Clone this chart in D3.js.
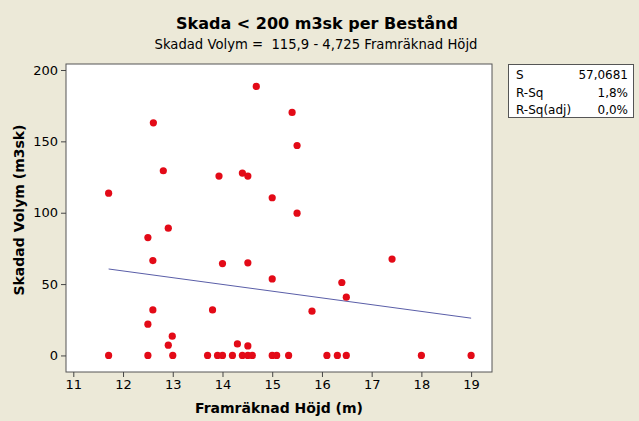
<!DOCTYPE html>
<html>
<head>
<meta charset="utf-8">
<script src="https://cdn.jsdelivr.net/npm/d3@7"></script>
<style>
html,body{margin:0;padding:0;background:#ECE9D8;}
svg{display:block;}
text{font-family:Tahoma,"DejaVu Sans",sans-serif;fill:#000;}
</style>
</head>
<body>
<script>
// Data
const hojd = [14.68,12.61,12.81,11.71,13.93,14.40,14.51,15.00,12.91,12.50,
  15.40,15.50,15.50,12.60,14.00,14.51,15.00,12.60,13.80,12.50,12.99,12.91,14.30,14.51,
  17.41,16.40,16.49,15.80,
  11.71,12.50,13.00,13.70,13.90,14.00,14.20,14.40,14.51,14.60,15.00,15.09,15.33,16.10,16.31,16.49,18.00,19.00];
const volym = [188.5,163,129.4,113.7,125.7,127.8,125.7,110.5,89.2,82.6,
  170.3,147.1,99.7,66.5,64.4,64.9,53.6,31.9,31.9,21.9,13.5,7.2,8.1,6.7,
  67.5,51.1,40.8,31.0,
  0,0,0,0,0,0,0,0,0,0,0,0,0,0,0,0,0,0];
const intercept = 115.9, slope = -4.725;
const fitRange = [11.71, 19.0];
const xTicks = [11,12,13,14,15,16,17,18,19];
const yTicks = [0,50,100,150,200];
const statLabels = ["S","R-Sq","R-Sq(adj)"];
const statValues = ["57,0681","1,8%","0,0%"];
const title = "Skada < 200 m3sk per Bestånd";
const subtitle = "Skadad Volym =  115,9 - 4,725 Framräknad Höjd";
const xLabel = "Framräknad Höjd (m)";
const yLabel = "Skadad Volym (m3sk)";

const W = 639, H = 421;
const L = 66, R = 492, T = 64, B = 372;
const svg = d3.select("body").append("svg").attr("width", W).attr("height", H);
svg.append("rect").attr("width", W).attr("height", H).attr("fill", "#ECE9D8");

const x = d3.scaleLinear().domain([10.853, 19.42]).range([L, R]);
const y = d3.scaleLinear().domain([-11.6, 204.2]).range([B, T]);

svg.append("rect").attr("x", L).attr("y", T).attr("width", R - L).attr("height", B - T)
  .attr("fill", "#fff").attr("stroke", "#555").attr("stroke-width", 1);

const xa = svg.append("g").attr("transform", `translate(0,${B})`)
  .call(d3.axisBottom(x).tickValues(xTicks).tickSize(5).tickPadding(3).tickFormat(d3.format("d")));
const ya = svg.append("g").attr("transform", `translate(${L},0)`)
  .call(d3.axisLeft(y).tickValues(yTicks).tickSize(5).tickPadding(3).tickFormat(d3.format("d")));
[xa, ya].forEach(g => {
  g.select(".domain").remove();
  g.selectAll("line").attr("stroke", "#444");
  g.selectAll("text").style("font-family", 'Tahoma,"DejaVu Sans",sans-serif').style("font-size", "13px").attr("fill", "#000");
});

// regression line
svg.append("line")
  .attr("x1", x(fitRange[0])).attr("y1", y(intercept + slope * fitRange[0]))
  .attr("x2", x(fitRange[1])).attr("y2", y(intercept + slope * fitRange[1]))
  .attr("stroke", "#5a5ea8").attr("stroke-width", 1);

svg.append("g").selectAll("circle").data(hojd.map((h, i) => [h, volym[i]])).join("circle")
  .attr("cx", d => x(d[0])).attr("cy", d => y(d[1])).attr("r", 3.6).attr("fill", "#E30A17");

// titles
svg.append("text").attr("x", 317).attr("y", 29).attr("text-anchor", "middle")
  .style("font-size", "16px").style("font-weight", "bold").text(title);
svg.append("text").attr("x", 316).attr("y", 49).attr("text-anchor", "middle")
  .style("font-size", "13.2px").style("white-space", "pre").text(subtitle);
svg.append("text").attr("x", (L + R) / 2).attr("y", 413).attr("text-anchor", "middle")
  .style("font-size", "14px").style("font-weight", "bold").text(xLabel);
svg.append("text").attr("transform", `translate(24,${(T + B) / 2 - 8}) rotate(-90)`).attr("text-anchor", "middle")
  .style("font-size", "14px").style("font-weight", "bold").text(yLabel);

// stats box
const bx = 508, by = 64, bw = 125, bh = 53;
svg.append("rect").attr("x", bx + 0.5).attr("y", by + 0.5).attr("width", bw).attr("height", bh)
  .attr("fill", "#fff").attr("stroke", "#555");
statLabels.forEach((s, i) => {
  svg.append("text").attr("x", 516).attr("y", 79 + i * 17.5).style("font-size", "12px").text(s);
  svg.append("text").attr("x", 628).attr("y", 79 + i * 17.5).attr("text-anchor", "end").style("font-size", "12px").text(statValues[i]);
});
</script>
</body>
</html>
